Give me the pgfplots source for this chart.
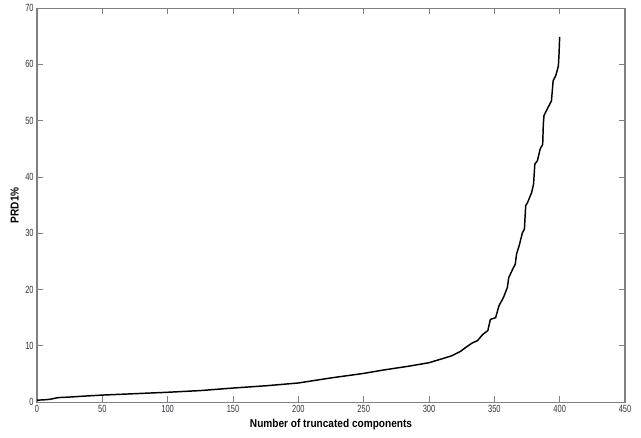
\documentclass[border=0pt]{standalone}
\usepackage{pgfplots}
\pgfplotsset{compat=1.18}
\usepackage{fontspec}
\setmainfont{Liberation Sans}
\newfontfamily\narrowfont[FakeStretch=0.72]{Liberation Sans}
\newfontfamily\labelfont[FakeStretch=0.88]{Liberation Sans}
\definecolor{axgray}{RGB}{128,128,128}
\definecolor{ticktext}{RGB}{50,50,65}
\begin{document}
\begin{tikzpicture}
\begin{axis}[
  name=ax,
  scale only axis,
  width=441pt, height=295.5pt,
  xmin=0, xmax=450, ymin=0, ymax=70,
  xtick={0,50,...,450}, ytick={0,10,...,70},
  tick align=inside,
  major tick length=4.5pt,
  axis line style={axgray, line width=0.9pt},
  every tick/.style={axgray, line width=0.7pt},
  /pgf/number format/assume math mode=true,
  tick label style={font=\narrowfont\fontsize{7.8}{8.5}\selectfont, text=ticktext},
  xticklabel style={yshift=1pt},
  yticklabel style={xshift=1pt},
  xlabel={Number of truncated components},
  ylabel={PRD1\%},
  xlabel style={font=\labelfont\bfseries\fontsize{8.6}{9.5}\selectfont, at={(axis description cs:0.5,-0.058)}, anchor=center},
  ylabel style={font=\labelfont\bfseries\fontsize{8.6}{9.5}\selectfont, at={(axis description cs:-0.038,0.5)}, anchor=center},
]
\addplot[black, line width=1.1pt] coordinates {
(0,0.35) (5,0.4) (10,0.5) (16,0.8) (25,0.9) (35,1.05) (50,1.25) (75,1.5)
(100,1.75) (125,2.05) (150,2.5) (175,2.9) (200,3.4) (225,4.3) (250,5.1)
(265,5.7) (285,6.4) (300,7.0) (310,7.7) (317,8.2) (324,9.0) (328,9.7)
(333,10.5) (337,10.9) (341,12.0) (345,12.7) (347,14.7) (351,15.0)
(353.5,17.1) (357,18.6) (360,20.4) (361,22.1) (364,23.6) (366,24.5)
(367,26.3) (369,27.8) (371.5,30.1) (373,30.7) (374,34.9) (375.5,35.5)
(378.5,37.2) (380,38.7) (381,42.3) (383,42.9) (385,44.9) (387,45.8)
(387.5,49.4) (388,50.9) (391,52.3) (393.7,53.5) (395,57.1) (397,58.0)
(399,59.7) (399.5,61.8) (400,64.9)
};
\end{axis}
\path ([xshift=-27.75pt,yshift=-26.25pt]ax.south west) rectangle ([xshift=12pt,yshift=3pt]ax.north east);
\end{tikzpicture}
\end{document}
